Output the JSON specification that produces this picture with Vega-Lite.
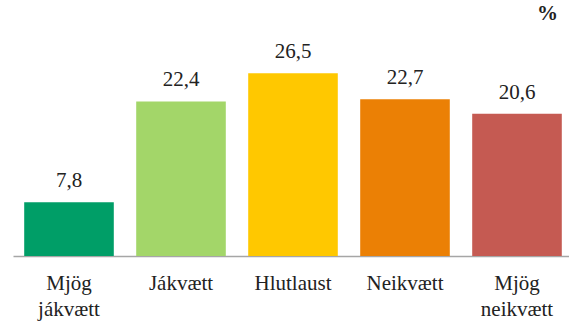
{
  "$schema": "https://vega.github.io/schema/vega-lite/v6.json",
  "width": 560,
  "height": 207,
  "autosize": "none",
  "padding": {"left": 13, "top": 49, "right": 0, "bottom": 69},
  "background": "white",
  "title": {"text": "%", "anchor": "end", "frame": "group", "offset": 17, "dx": -15, "font": "Liberation Serif", "fontSize": 21, "fontWeight": "bold", "color": "#222222"},
  "config": {"view": {"stroke": null}, "font": "Liberation Serif"},
  "data": {"values": [
    {"category": "Mjög jákvætt", "value": 7.8, "label": "7,8"},
    {"category": "Jákvætt", "value": 22.4, "label": "22,4"},
    {"category": "Hlutlaust", "value": 26.5, "label": "26,5"},
    {"category": "Neikvætt", "value": 22.7, "label": "22,7"},
    {"category": "Mjög neikvætt", "value": 20.6, "label": "20,6"}
  ]},
  "encoding": {
    "x": {"field": "category", "type": "nominal", "sort": null,
      "scale": {"paddingInner": 0.2, "paddingOuter": 0.1},
      "axis": {"title": null, "labelAngle": 0, "ticks": false, "domainColor": "#A6A6A6", "domainWidth": 1.5,
        "labelFont": "Liberation Serif", "labelFontSize": 21, "labelColor": "#222222", "labelPadding": 16,
        "labelLineHeight": 26, "labelBaseline": "top",
        "labelExpr": "indexof(datum.value, 'Mjög') == 0 ? split(datum.value, ' ') : datum.value"}},
    "y": {"field": "value", "type": "quantitative", "scale": {"domain": [0, 30]}, "axis": null}
  },
  "layer": [
    {"mark": {"type": "bar"},
     "encoding": {"color": {"field": "category", "type": "nominal", "sort": null, "legend": null,
       "scale": {"domain": ["Mjög jákvætt", "Jákvætt", "Hlutlaust", "Neikvætt", "Mjög neikvætt"],
                 "range": ["#009E67", "#A3D669", "#FFC800", "#EB8005", "#C55A52"]}}}},
    {"mark": {"type": "text", "baseline": "bottom", "dy": -11, "fontSize": 21, "font": "Liberation Serif", "color": "#222222"},
     "encoding": {"text": {"field": "label"}}}
  ]
}
